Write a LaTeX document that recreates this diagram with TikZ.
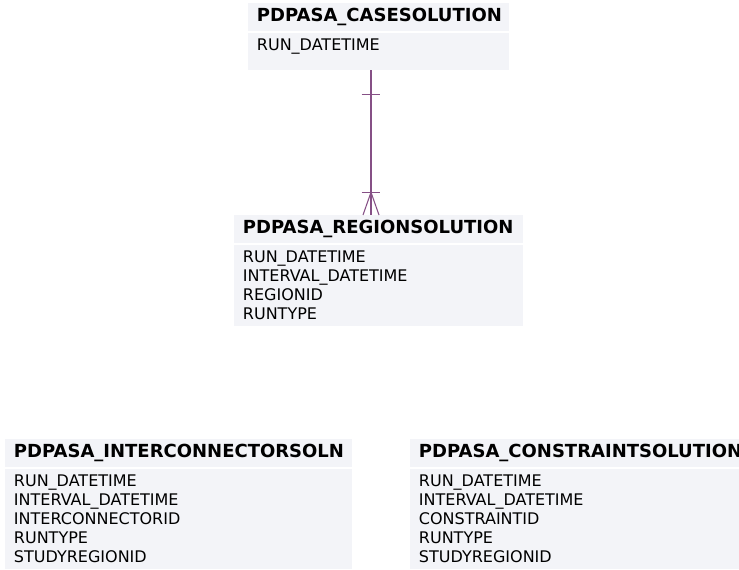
\documentclass[tikz,border=0pt]{standalone}
\usepackage{fontspec}
\setmainfont{DejaVu Sans}
\usepackage{tikz}
\usetikzlibrary{positioning}
\usepackage{xcolor}
\definecolor{tablebg}{RGB}{243,244,248}
\definecolor{relpurple}{RGB}{134,80,134}
\newcommand{\tablecolor}{tablebg}
\newcommand{\linkcolor}{relpurple}
\newcommand{\headfont}{\fontsize{13.5pt}{16pt}\selectfont\bfseries}
\newcommand{\bodyfont}{\fontsize{12pt}{14.25pt}\selectfont}

\begin{document}
\begin{tikzpicture}[
      % GLOBAL CFG
      x=0.75pt, y=-0.75pt,
      % Styles
      head/.style={% For table names
        rectangle,
        fill=\tablecolor,
        anchor=north west,
        font=\headfont,
        align=left,
        text width=#1,
        inner xsep=6.5pt,
        inner ysep=0pt,
        minimum height=21pt
      },
      body/.style={% For column lists
        rectangle,
        fill=\tablecolor,
        font=\bodyfont,
        align=left,
        text width=#1,
        inner xsep=6.5pt,
        inner ysep=0pt
      },
      rel/.style={% Relationship lines
        draw=\linkcolor,
        line width=0.8pt
      }
      ]
      \useasboundingbox (0,0) rectangle (739,570);
      \clip (0,0) rectangle (739,570);

      % Draw the tables:
      \node [head=182.75pt] (casehead) at (248,3) {PDPASA\_CASESOLUTION};
      \node [body=182.75pt, minimum height=27.75pt, text depth=10pt,
        below=0.75pt of casehead] (casebody)
        {RUN\_DATETIME};

      \node [head=203.75pt] (regionhead) at (234,215) {PDPASA\_REGIONSOLUTION};
      \node [body=203.75pt, minimum height=60.75pt, below=0.75pt of regionhead] (regionbody)
        {RUN\_DATETIME\\INTERVAL\_DATETIME\\REGIONID\\RUNTYPE};

      \node [head=247.25pt] (icsolnhead) at (5,439) {PDPASA\_INTERCONNECTORSOLN};
      \node [body=247.25pt, minimum height=75pt, below=0.75pt of icsolnhead] (icsolnbody)
        {RUN\_DATETIME\\INTERVAL\_DATETIME\\INTERCONNECTORID\\RUNTYPE\\STUDYREGIONID};

      \node [head=247.25pt] (conshead) at (410,439) {PDPASA\_CONSTRAINTSOLUTION};
      \node [body=247.25pt, minimum height=75pt, below=0.75pt of conshead] (consbody)
        {RUN\_DATETIME\\INTERVAL\_DATETIME\\CONSTRAINTID\\RUNTYPE\\STUDYREGIONID};

      % One case to many regions
      \coordinate (link) at (371,0);
      \draw [rel] (casebody.south -| link) -- (regionhead.north -| link);
      \draw [rel] ([yshift=-18pt]casebody.south -| link) ++(-7pt,0) -- ++(14pt,0);
      \draw [rel] ([yshift=17pt]regionhead.north -| link) ++(-7pt,0) -- ++(14pt,0);
      \draw [rel] (regionhead.north -| link) ++(-6pt,0) -- ++(6pt,17pt) -- ++(6pt,-17pt);

    \end{tikzpicture}
\end{document}
